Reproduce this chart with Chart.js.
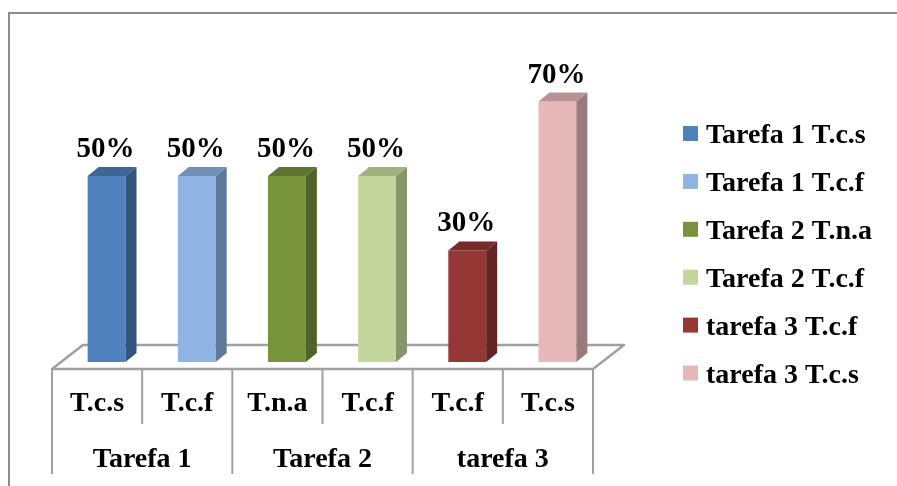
<!DOCTYPE html>
<html>
<head>
<meta charset="utf-8">
<script src="https://cdn.jsdelivr.net/npm/chart.js@4.4.1/dist/chart.umd.min.js"></script>
<style>
  html, body { margin: 0; padding: 0; background: #fff; }
  #grafico { display: block; }
</style>
</head>
<body>
<canvas id="grafico" width="897" height="486"></canvas>
<script>
const categorias = ['T.c.s', 'T.c.f', 'T.n.a', 'T.c.f', 'T.c.f', 'T.c.s'];
const grupos = ['Tarefa 1', 'Tarefa 2', 'tarefa 3'];
const series = ['Tarefa 1 T.c.s', 'Tarefa 1 T.c.f', 'Tarefa 2 T.n.a', 'Tarefa 2 T.c.f', 'tarefa 3 T.c.f', 'tarefa 3 T.c.s'];
const valores = [50, 50, 50, 50, 30, 70];

const coresFrente = ['#4F81BD', '#8EB4E3', '#77933C', '#C3D69B', '#953735', '#E6B9B8'];
const coresLado = ['#34557F', '#5E7897', '#4F6228', '#87956B', '#632423', '#9A7B7B'];
const coresTopo = ['#3D6595', '#7090B8', '#5E7530', '#A0B07E', '#772B2A', '#B89393'];

const FONTE = "'Liberation Serif', 'Times New Roman', serif";
const PROF_X = 11, PROF_Y = -9;     // profundidade das barras
const DESLOC_X = 9.5, DESLOC_Y = -7; // barras ficam no meio do piso
const PISO_X = 31, PISO_Y = -24;

const efeito3D = {
  id: 'efeito3D',
  beforeDraw(chart) {
    const ctx = chart.ctx;
    ctx.save();
    ctx.strokeStyle = '#8c8c8c';
    ctx.lineWidth = 2;
    ctx.beginPath();
    ctx.moveTo(9, 486);
    ctx.lineTo(9, 13);
    ctx.lineTo(897, 13);
    ctx.stroke();
    ctx.restore();
  },
  beforeDatasetsDraw(chart) {
    const ctx = chart.ctx;
    const x = chart.scales.x, y = chart.scales.y;
    const base = y.getPixelForValue(0);
    // piso
    ctx.save();
    ctx.strokeStyle = '#a0a0a0';
    ctx.lineWidth = 2.5;
    ctx.lineJoin = 'round';
    ctx.beginPath();
    ctx.moveTo(x.left, base);
    ctx.lineTo(x.left + PISO_X, base + PISO_Y);
    ctx.lineTo(x.right + PISO_X, base + PISO_Y);
    ctx.lineTo(x.right, base);
    ctx.closePath();
    ctx.stroke();
    ctx.restore();
    ctx.save();
    ctx.translate(DESLOC_X, DESLOC_Y);
  },
  afterDatasetsDraw(chart) {
    const ctx = chart.ctx;
    chart.data.datasets.forEach((ds, i) => {
      const meta = chart.getDatasetMeta(i);
      meta.data.forEach((bar, j) => {
        if (ds.data[j] == null) return;
        const { x, y, base, width } = bar.getProps(['x', 'y', 'base', 'width'], true);
        const l = x - width / 2, r = x + width / 2;
        ctx.fillStyle = coresLado[i];
        ctx.beginPath();
        ctx.moveTo(r, y);
        ctx.lineTo(r + PROF_X, y + PROF_Y);
        ctx.lineTo(r + PROF_X, base + PROF_Y);
        ctx.lineTo(r, base);
        ctx.closePath();
        ctx.fill();
        ctx.fillStyle = coresTopo[i];
        ctx.beginPath();
        ctx.moveTo(l, y);
        ctx.lineTo(l + PROF_X, y + PROF_Y);
        ctx.lineTo(r + PROF_X, y + PROF_Y);
        ctx.lineTo(r, y);
        ctx.closePath();
        ctx.fill();
        // rótulo de valor
        ctx.fillStyle = '#000';
        ctx.font = 'bold 29px ' + FONTE;
        ctx.textAlign = 'center';
        ctx.textBaseline = 'alphabetic';
        ctx.fillText(ds.data[j] + '%', x - 1, y - 19);
      });
    });
    ctx.restore();
  },
  afterDraw(chart) {
    const ctx = chart.ctx;
    const x = chart.scales.x;
    const base = chart.scales.y.getPixelForValue(0);
    const passo = x.getPixelForValue(1) - x.getPixelForValue(0);
    ctx.save();
    ctx.strokeStyle = '#a0a0a0';
    ctx.lineWidth = 2;
    for (let i = 0; i <= categorias.length; i++) {
      const px = x.getPixelForValue(0) - passo / 2 + i * passo;
      const fim = (i % 2 === 0) ? 474 : 424;
      ctx.beginPath();
      ctx.moveTo(px, base);
      ctx.lineTo(px, fim);
      ctx.stroke();
    }
    // rótulos dos grupos
    ctx.fillStyle = '#000';
    ctx.font = 'bold 28px ' + FONTE;
    ctx.textAlign = 'center';
    ctx.textBaseline = 'alphabetic';
    grupos.forEach((g, k) => {
      const cx = (x.getPixelForValue(2 * k) + x.getPixelForValue(2 * k + 1)) / 2;
      ctx.fillText(g, cx, 467);
    });
    // legenda
    ctx.font = 'bold 28px ' + FONTE;
    ctx.textAlign = 'left';
    series.forEach((s, i) => {
      const cy = 133 + i * 47.9;
      ctx.fillStyle = coresFrente[i];
      ctx.fillRect(683, cy - 7, 15, 15);
      ctx.fillStyle = '#000';
      ctx.fillText(s, 706, cy + 10);
    });
    ctx.restore();
  }
};

new Chart(document.getElementById('grafico'), {
  type: 'bar',
  data: {
    labels: categorias,
    datasets: series.map((s, i) => ({
      label: s,
      data: categorias.map((_, j) => (j === i ? valores[i] : null)),
      backgroundColor: coresFrente[i],
      borderWidth: 0
    }))
  },
  options: {
    responsive: false,
    animation: false,
    skipNull: true,
    categoryPercentage: 1,
    barPercentage: 0.42,
    layout: { padding: { left: 52, right: 304, top: 71.4, bottom: 0 } },
    plugins: {
      legend: { display: false },
      tooltip: { enabled: false }
    },
    scales: {
      x: {
        grid: { display: false, drawTicks: false },
        border: { display: false },
        ticks: {
          padding: 18,
          color: '#000',
          font: { family: FONTE, size: 28, weight: 'bold' }
        },
        afterFit(scale) { scale.height = 117; }
      },
      y: {
        display: false,
        min: 0,
        max: 80
      }
    }
  },
  plugins: [efeito3D]
});
</script>
</body>
</html>
